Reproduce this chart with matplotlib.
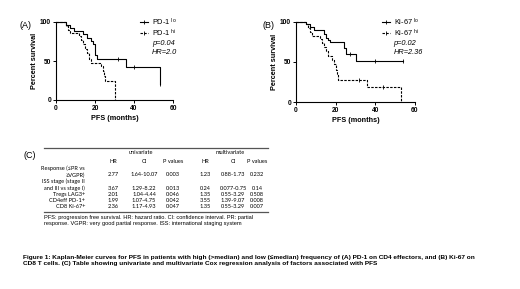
import matplotlib
matplotlib.use("Agg")
import matplotlib.pyplot as plt

plt.rcParams["font.family"] = ["Liberation Sans", "DejaVu Sans"]
plt.rcParams["mathtext.fontset"] = "custom"
plt.rcParams["mathtext.rm"] = "Liberation Sans"

# Kaplan-Meier step data (months, % survival)
a_lo_t = [0, 5, 7, 9, 14, 16, 18, 19, 20, 21, 36, 53.5]
a_lo_s = [100, 96, 92, 88, 84, 80, 76, 72, 58, 52, 42, 21]
a_lo_cens_t = [32, 40, 53.5]
a_lo_cens_s = [52, 42, 21]

a_hi_t = [0, 5, 6, 7, 12, 13, 14, 15, 16, 17, 18, 23, 24, 24.5, 25, 30]
a_hi_s = [100, 95, 90, 86, 82, 77, 72, 66, 60, 53, 48, 43, 37, 31, 24, 0]

b_lo_t = [0, 5, 7, 9, 14, 15, 16, 17, 24, 25, 30, 54]
b_lo_s = [100, 97, 94, 90, 85, 80, 77, 75, 68, 60, 51, 51]
b_lo_cens_t = [27, 40, 54]
b_lo_cens_s = [60, 51, 51]

b_hi_t = [0, 5, 6, 7, 8, 12, 13, 14, 15, 16, 18, 19, 20, 20.5, 21, 36, 53]
b_hi_s = [100, 97, 92, 87, 83, 79, 74, 69, 64, 58, 53, 47, 40, 35, 28, 19, 0]
b_hi_cens_t = [32, 44]
b_hi_cens_s = [28, 19]

# table (C)
row_labels = [["Response (\u2264PR vs", "\u2265VGPR)"],
              ["ISS stage (stage II", "and III vs stage I)"],
              ["Tregs LAG3+"], ["CD4eff PD-1+"], ["CD8 Ki-67+"]]
uni_hr = ["2.77", "3.67", "2.01", "1.99", "2.36"]
uni_ci = ["1.64-10.07", "1.29-8.22", "1.04-4.44", "1.07-4.75", "1.17-4.93"]
uni_p = ["0.003", "0.013", "0.046", "0.042", "0.047"]
multi_hr = ["1.23", "0.24", "1.35", "3.55", "1.35"]
multi_ci = ["0.88-1.73", "0.077-0.75", "0.55-3.29", "1.39-9.07", "0.55-3.29"]
multi_p = ["0.232", "0.14", "0.508", "0.008", "0.007"]

W, H = 520, 289
fig = plt.figure(figsize=(W / 100, H / 100), dpi=100)
DASH = (0, (2.2, 1.2))


def px_axes(x0, x1, ytop, ybot):
    return fig.add_axes([x0 / W, 1 - ybot / H, (x1 - x0) / W, (ybot - ytop) / H])


def km_panel(ax, lo_t, lo_s, hi_t, hi_s, lo_ct, lo_cs, hi_ct, hi_cs,
             name, pval, hr, tag, tag_x):
    ax.step(lo_t, lo_s, where="post", color="black", lw=0.8, clip_on=False)
    ax.step(hi_t, hi_s, where="post", color="black", lw=0.8, ls=DASH,
            clip_on=False)
    ax.plot(lo_ct, lo_cs, ls="none", marker="|", ms=2.2, mew=0.6,
            color="black", clip_on=False)
    if hi_ct:
        ax.plot(hi_ct, hi_cs, ls="none", marker="|", ms=2.2, mew=0.6,
                color="black", clip_on=False)
    ax.set_xlim(0, 60)
    ax.set_ylim(0, 100)
    ax.set_xticks([0, 20, 40, 60])
    ax.set_yticks([0, 50, 100])
    for s in ["top", "right"]:
        ax.spines[s].set_visible(False)
    for s in ["left", "bottom"]:
        ax.spines[s].set_linewidth(0.8)
    ax.tick_params(length=2, width=0.7, pad=1.5, labelsize=4.8)
    for lab in ax.get_xticklabels() + ax.get_yticklabels():
        lab.set_fontweight("bold")
    ax.set_xlabel("PFS (months)", fontsize=5.2, fontweight="bold", labelpad=2)
    ax.set_ylabel("Percent survival", fontsize=5.2, fontweight="bold",
                  labelpad=1.5)
    # hand-placed legend
    tr = ax.transAxes
    for y, ls, sup in [(1.0, "-", "lo"), (0.86, DASH, "hi")]:
        ax.plot([0.72, 0.79], [y, y], transform=tr, color="black", lw=0.8,
                ls=ls, clip_on=False)
        ax.plot([0.755], [y], transform=tr, color="black", marker="|",
                ms=2.2, mew=0.6, clip_on=False)
        ax.text(0.82, y, name + r" $^{\mathrm{" + sup + "}}$", transform=tr,
                fontsize=5.3, va="center")
    ax.text(0.82, 0.73, pval, transform=tr, fontsize=5.3, style="italic",
            va="center")
    ax.text(0.82, 0.615, hr, transform=tr, fontsize=5.3, style="italic",
            va="center")
    ax.text(tag_x, 0.96, tag, transform=tr, fontsize=6.5, va="center",
            ha="center")


ax_a = px_axes(56, 173, 22, 100)
km_panel(ax_a, a_lo_t, a_lo_s, a_hi_t, a_hi_s, a_lo_cens_t, a_lo_cens_s,
         [], [], "PD-1", "p=0.04", "HR=2.0", "(A)", -0.26)

ax_b = px_axes(296, 415, 22, 102)
km_panel(ax_b, b_lo_t, b_lo_s, b_hi_t, b_hi_s, b_lo_cens_t, b_lo_cens_s,
         b_hi_cens_t, b_hi_cens_s, "Ki-67", "p=0.02", "HR=2.36", "(B)", -0.23)

# table region in pixel coordinates
ax_t = fig.add_axes([0, 0, 1, 1])
ax_t.set_xlim(0, W)
ax_t.set_ylim(H, 0)
ax_t.axis("off")

tfont = ["Lato", "DejaVu Sans"]
tsize = 4.1
col_x = [113, 144, 173, 205, 233, 257]
ax_t.text(30, 155, "(C)", fontsize=6.5, ha="center", va="center")
ax_t.plot([44, 268], [147.5, 147.5], color="#555555", lw=0.9)
ax_t.plot([44, 268], [211.5, 211.5], color="#555555", lw=0.9)
ax_t.text(141, 153, "univariate", family=tfont, fontsize=tsize,
          ha="center", va="center")
ax_t.text(230, 153, "multivariate", family=tfont, fontsize=tsize,
          ha="center", va="center")
for x, h in zip(col_x, ["HR", "CI", "P values", "HR", "CI", "P values"]):
    ax_t.text(x, 161.5, h, family=tfont, fontsize=tsize, ha="center",
              va="center")

row_y = [[168, 175], [181.5, 188], [194.5], [201], [207]]
cols = [uni_hr, uni_ci, uni_p, multi_hr, multi_ci, multi_p]
for i, (labs, ys) in enumerate(zip(row_labels, row_y)):
    for lab, y in zip(labs, ys):
        ax_t.text(85, y, lab, family=tfont, fontsize=tsize, ha="right",
                  va="center")
    for x, col in zip(col_x, cols):
        ax_t.text(x, ys[-1], col[i], family=tfont, fontsize=tsize,
                  ha="center", va="center")

ax_t.text(44, 217, "PFS: progression free survival. HR: hazard ratio. "
          "CI: confidence interval. PR: partial", fontsize=4.1, va="center")
ax_t.text(44, 223, "response. VGPR: very good partial response. "
          "ISS: international staging system", fontsize=4.1, va="center")

ax_t.text(23, 257.5, "Figure 1: Kaplan-Meier curves for PFS in patients with high "
          "(>median) and low (\u2264median) frequency of (A) PD-1 on CD4 "
          "effectors, and (B) Ki-67 on", fontsize=4.65, fontweight="bold",
          va="center")
ax_t.text(23, 263.8, "CD8 T cells. (C) Table showing univariate and multivariate "
          "Cox regression analysis of factors associated with PFS",
          fontsize=4.65, fontweight="bold", va="center")

fig.savefig("out.png", dpi=100)
